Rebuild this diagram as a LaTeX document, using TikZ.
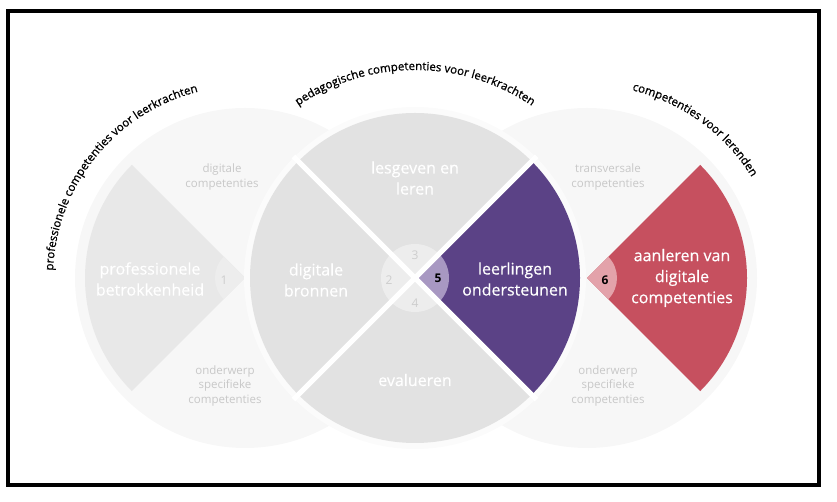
\documentclass[tikz,border=0pt]{standalone}
\usepackage{fontspec}
\setmainfont{Open Sans}
\newfontfamily\medfam[FakeBold=0.4]{Open Sans}
\newfontfamily\arcfam[FakeBold=0.9]{Open Sans}
\usetikzlibrary{decorations.text,calc}
\definecolor{purp}{HTML}{5B4286}
\definecolor{purptab}{HTML}{A898C2}
\definecolor{redsec}{HTML}{C6505F}
\definecolor{redtab}{HTML}{E3A2AA}
\definecolor{midsec}{HTML}{E2E2E2}
\definecolor{leftsec}{HTML}{E8E8E8}
\definecolor{graytab}{HTML}{EDEDED}
\definecolor{outerfill}{HTML}{F7F7F7}
\definecolor{ringfill}{HTML}{FBFBFB}
\definecolor{smallgray}{HTML}{C8C8C8}
\definecolor{numgray}{HTML}{CDCDCD}
\newcommand\lblbig{\medfam\fontsize{16}{21}\selectfont}
\newcommand\lblsmall{\fontsize{11.5}{14.5}\selectfont}
\newcommand\lblnum{\fontsize{12}{14}\selectfont}
\newcommand\lblarc{\arcfam\fontsize{11.5}{14}\selectfont}
\tikzset{
  biglabel/.style={text=white, font=\lblbig, align=center, inner sep=0pt},
  smalllabel/.style={text=smallgray, font=\lblsmall, align=center, inner sep=0pt},
  numlabel/.style={text=numgray, font=\lblnum, inner sep=0pt},
  numdark/.style={text=black, font=\lblnum\bfseries, inner sep=0pt},
  gapline/.style={white, line width=5pt},
  arctext/.style={decorate, decoration={text along path, text align=center, text color=black}}
}
\begin{document}
\begin{tikzpicture}[x=1pt,y=1pt]
\useasboundingbox (0,0) rectangle (837,502);
\coordinate (L) at (245,224);
\coordinate (M) at (415,224);
\coordinate (R) at (587,224);
% outer circles
\fill[outerfill] (L) circle[radius=170];
\fill[outerfill] (R) circle[radius=170];
% left sector
\fill[leftsec] (L) -- ($(L)+(135:160)$) arc[start angle=135,end angle=225,radius=160] -- cycle;
\fill[graytab] (L) -- ($(L)+(135:30)$) arc[start angle=135,end angle=225,radius=30] -- cycle;
% right sector
\fill[redsec] (R) -- ($(R)+(-45:160)$) arc[start angle=-45,end angle=45,radius=160] -- cycle;
\fill[redtab] (R) -- ($(R)+(-45:30)$) arc[start angle=-45,end angle=45,radius=30] -- cycle;
% middle circle
\fill[ringfill] (M) circle[radius=171];
\fill[midsec] (M) -- ($(M)+(45:165)$) arc[start angle=45,end angle=315,radius=165] -- cycle;
\fill[purp] (M) -- ($(M)+(-45:165)$) arc[start angle=-45,end angle=45,radius=165] -- cycle;
\fill[graytab] (M) -- ($(M)+(45:34)$) arc[start angle=45,end angle=315,radius=34] -- cycle;
\fill[purptab] (M) -- ($(M)+(-45:34)$) arc[start angle=-45,end angle=45,radius=34] -- cycle;
\draw[gapline] ($(M)+(45:172)$) -- ($(M)+(225:172)$);
\draw[gapline] ($(M)+(135:172)$) -- ($(M)+(315:172)$);
% main labels
\node[biglabel] (prof) at (150,223) {professionele\\betrokkenheid};
\node[biglabel] (bron) at (316,222) {digitale\\bronnen};
\node[biglabel] (les) at (415,324) {lesgeven en\\leren};
\node[biglabel] (eval) at (415,122) {evalueren};
\node[biglabel] (leer) at (515,223) {leerlingen\\ondersteunen};
\node[biglabel] (aanl) at (682,224) {aanleren van\\digitale\\competenties};
% small labels
\node[smalllabel] (dc) at (222,325) {digitale\\competenties};
\node[smalllabel] (osl) at (225,116) {onderwerp\\specifieke\\competenties};
\node[smalllabel] (tc) at (608,325) {transversale\\competenties};
\node[smalllabel] (osr) at (608,116) {onderwerp\\specifieke\\competenties};
% numbers
\node[numlabel] (n1) at (224,222) {1};
\node[numlabel] (n2) at (389,222) {2};
\node[numlabel] (n3) at (415,247) {3};
\node[numlabel] (n4) at (415,199) {4};
\node[numdark] (n5) at (438,224) {5};
\node[numdark] (n6) at (605,222) {6};
% curved titles
\path[arctext, decoration={text={|\lblarc|professionele competenties voor leerkrachten}}]
  ($(L)+(186:192)$) arc[start angle=186,end angle=96,radius=192];
\path[arctext, decoration={text={|\lblarc|pedagogische competenties voor leerkrachten}}]
  ($(M)+(135:208)$) arc[start angle=135,end angle=45,radius=208];
\path[arctext, decoration={text={|\lblarc|competenties voor lerenden}}]
  ($(R)+(99:193)$) arc[start angle=99,end angle=9,radius=193];
% frame
\draw[line width=4pt] (8,491) rectangle (818.5,17);
\end{tikzpicture}
\end{document}
